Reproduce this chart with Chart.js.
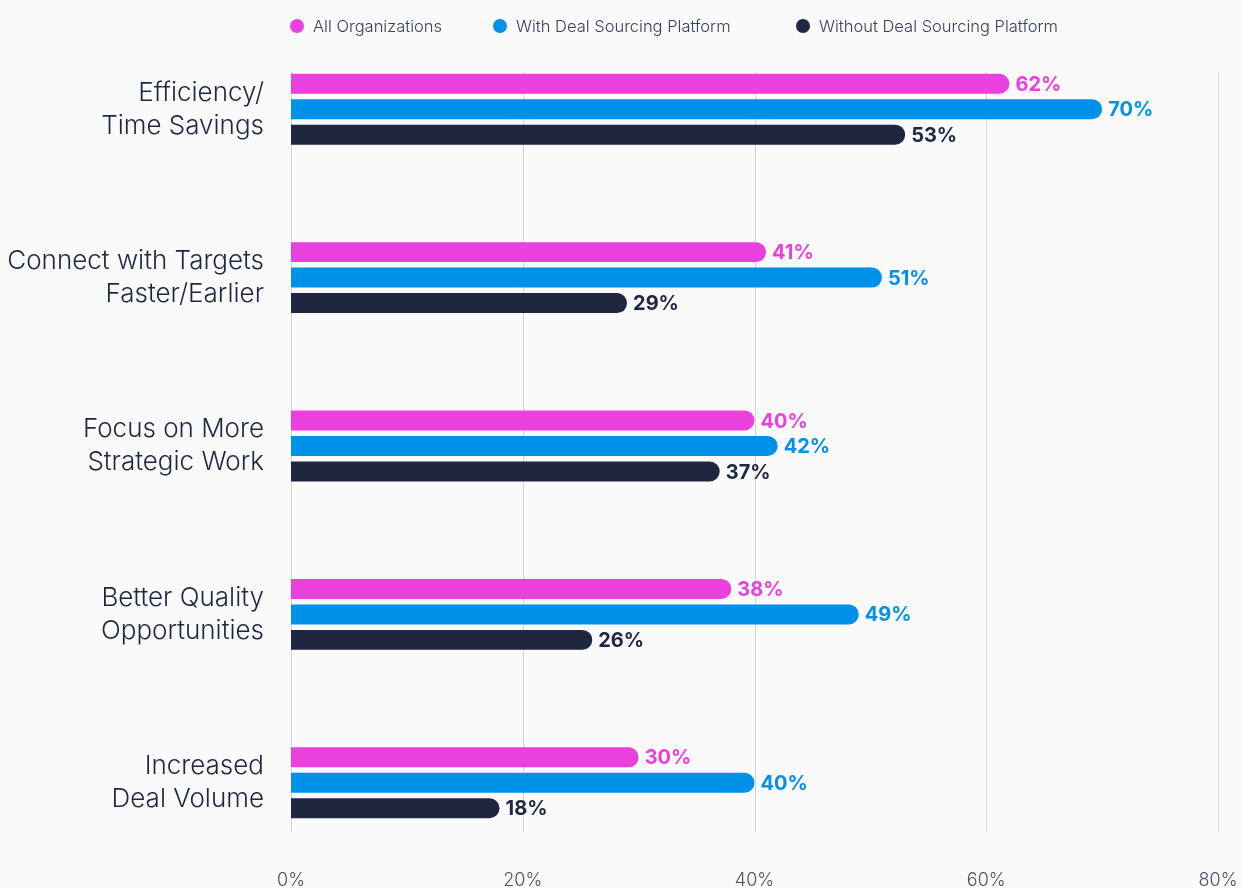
<!DOCTYPE html>
<html>
<head>
<meta charset="utf-8">
<script src="https://cdn.jsdelivr.net/npm/chart.js@4"></script>
<style>
    html, body { margin: 0; padding: 0; background: #fafafa; }
    #wrap { position: relative; width: 1241px; height: 888px; }
    .legend-item {
        position: absolute; top: 16px; display: flex; align-items: center;
        font-family: Inter, sans-serif; font-weight: 300; font-size: 16.5px; color: #3a4058;
    }
    .legend-item span.dot { width: 14px; height: 14px; border-radius: 50%; margin-right: 9px; display: inline-block; }
</style>
</head>
<body>
<div id="wrap">
    <div class="legend-item" style="left:290px"><span class="dot" style="background:#e940de"></span>All Organizations</div>
    <div class="legend-item" style="left:493px"><span class="dot" style="background:#0091e8"></span>With Deal Sourcing Platform</div>
    <div class="legend-item" style="left:796px"><span class="dot" style="background:#1e2640"></span>Without Deal Sourcing Platform</div>
    <canvas id="chart" width="1241" height="888"></canvas>
</div>
<script>
const categories = [
    ['Efficiency/', 'Time Savings'],
    ['Connect with Targets', 'Faster/Earlier'],
    ['Focus on More', 'Strategic Work'],
    ['Better Quality', 'Opportunities'],
    ['Increased', 'Deal Volume']
];
const allOrgs = [62, 41, 40, 38, 30];
const withPlatform = [70, 51, 42, 49, 40];
const withoutPlatform = [53, 29, 37, 26, 18];
const xTicks = [0, 20, 40, 60, 80];

document.addEventListener('DOMContentLoaded', () => {
    const ctx = document.getElementById('chart').getContext('2d');

    // vertical grid lines, shorter than the plot area
    const gridPlugin = {
        id: 'shortGrid',
        beforeDatasetsDraw(chart) {
            const { ctx, chartArea, scales } = chart;
            ctx.save();
            ctx.strokeStyle = '#d6d6d6';
            ctx.lineWidth = 1;
            xTicks.forEach(v => {
                const x = Math.round(scales.x.getPixelForValue(v)) + 0.5;
                ctx.beginPath();
                ctx.moveTo(x, chartArea.top + 47);
                ctx.lineTo(x, chartArea.bottom - 35);
                ctx.stroke();
            });
            ctx.restore();
        }
    };

    // value labels at the end of each bar
    const valueLabels = {
        id: 'valueLabels',
        afterDatasetsDraw(chart) {
            const ctx = chart.ctx;
            ctx.save();
            ctx.font = '700 20px Inter, sans-serif';
            ctx.textBaseline = 'middle';
            ctx.textAlign = 'left';
            chart.data.datasets.forEach((ds, i) => {
                const meta = chart.getDatasetMeta(i);
                ctx.fillStyle = ds.backgroundColor;
                meta.data.forEach((bar, j) => {
                    ctx.fillText(ds.data[j] + '%', bar.x + 6, bar.y + 1);
                });
            });
            ctx.restore();
        }
    };

    const barStyle = {
        categoryPercentage: 0.454,
        barPercentage: 0.784,
        borderRadius: 10,
        borderSkipped: 'start'
    };

    new Chart(ctx, {
        type: 'bar',
        data: {
            labels: categories,
            datasets: [
                { label: 'All Organizations', data: allOrgs, backgroundColor: '#e940de', ...barStyle },
                { label: 'With Deal Sourcing Platform', data: withPlatform, backgroundColor: '#0091e8', ...barStyle },
                { label: 'Without Deal Sourcing Platform', data: withoutPlatform, backgroundColor: '#1e2640', ...barStyle }
            ]
        },
        options: {
            indexAxis: 'y',
            responsive: false,
            animation: false,
            layout: { padding: { top: 25, right: 23, bottom: -9, left: 0 } },
            plugins: {
                legend: { display: false },
                tooltip: { enabled: false }
            },
            scales: {
                x: {
                    min: 0,
                    max: 80,
                    grid: { display: false, drawTicks: false },
                    border: { display: false },
                    afterFit(scale) { scale.height = 30; scale.paddingLeft = 0; scale.paddingRight = 0; },
                    afterBuildTicks(scale) { scale.ticks = xTicks.map(v => ({ value: v })); },
                    ticks: {
                        padding: 3,
                        color: '#4a5068',
                        font: { family: 'Inter, sans-serif', size: 18, weight: 300 },
                        callback: v => v + '%'
                    }
                },
                y: {
                    grid: { display: false, drawTicks: false },
                    border: { display: false },
                    afterFit(scale) { scale.width = 291; scale.paddingTop = 0; scale.paddingBottom = 0; },
                    ticks: {
                        padding: 27,
                        color: '#1e2640',
                        font: { family: 'Inter, sans-serif', size: 26, weight: 300, lineHeight: 1.27 }
                    }
                }
            }
        },
        plugins: [gridPlugin, valueLabels]
    });
});
</script>
</body>
</html>
